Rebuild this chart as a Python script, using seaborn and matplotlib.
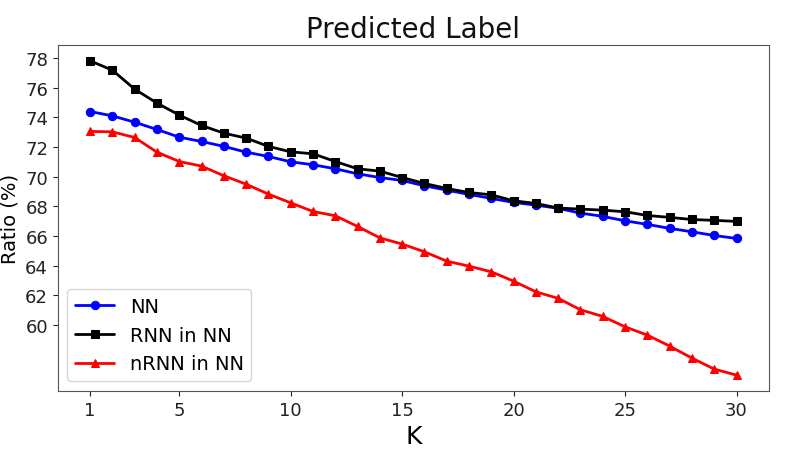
import numpy as np
import pandas as pd
import matplotlib
matplotlib.use("Agg")
import matplotlib.pyplot as plt
import seaborn as sns

k_values = list(range(1, 31))

nn = [74.40, 74.11, 73.68, 73.19, 72.67, 72.38, 72.05, 71.66, 71.37, 71.01,
      70.81, 70.54, 70.20, 69.95, 69.75, 69.39, 69.10, 68.81, 68.54, 68.27,
      68.09, 67.87, 67.55, 67.33, 67.03, 66.79, 66.52, 66.29, 66.04, 65.84]

rnn_in_nn = [77.82, 77.19, 75.91, 74.97, 74.16, 73.46, 72.94, 72.61, 72.05, 71.68,
             71.55, 71.03, 70.54, 70.38, 69.95, 69.55, 69.21, 68.94, 68.78, 68.38,
             68.20, 67.89, 67.82, 67.75, 67.64, 67.39, 67.26, 67.12, 67.06, 66.99]

nrnn_in_nn = [73.06, 73.03, 72.65, 71.66, 71.03, 70.72, 70.07, 69.50, 68.83, 68.24,
              67.66, 67.37, 66.65, 65.88, 65.46, 64.94, 64.31, 63.97, 63.59, 62.96,
              62.24, 61.80, 61.03, 60.58, 59.88, 59.32, 58.58, 57.77, 57.03, 56.62]

x_ticks = [1, 5, 10, 15, 20, 25, 30]
y_ticks = [60, 62, 64, 66, 68, 70, 72, 74, 76, 78]

sns.set_style("ticks", {"text.color": "black", "xtick.color": "black",
                        "ytick.color": "black", "axes.labelcolor": "black"})
plt.rcParams['font.family'] = ['DejaVu Sans']

fig, ax = plt.subplots(figsize=(7.91, 4.52), dpi=100)
fig.subplots_adjust(left=0.073, right=0.972, top=0.898, bottom=0.133)

series = [("NN", nn, "blue", "o"),
          ("RNN in NN", rnn_in_nn, "black", "s"),
          ("nRNN in NN", nrnn_in_nn, "red", "^")]

for name, vals, color, marker in series:
    sns.lineplot(x=k_values, y=vals, color=color, marker=marker, markersize=6,
                 markeredgecolor=color, linewidth=2, label=name, ax=ax)

ax.set_xticks(x_ticks)
ax.set_yticks(y_ticks)
ax.tick_params(labelsize=13, colors="#222222")
ax.set_title("Predicted Label", fontsize=20, color="#111111")
ax.set_xlabel("K", fontsize=18)
ax.set_ylabel("Ratio (%)", fontsize=14)
for sp in ax.spines.values():
    sp.set_visible(True)
    sp.set_color("#555555")

ax.legend(loc="lower left", fontsize=14)

plt.savefig("out.png", facecolor="w")
